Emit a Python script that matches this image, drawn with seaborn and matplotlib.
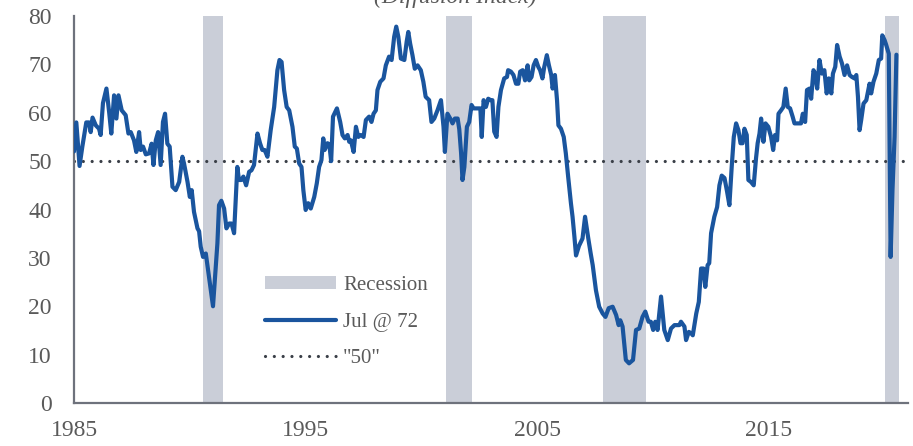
import matplotlib
matplotlib.use("Agg")
import matplotlib.pyplot as plt
import matplotlib.patches as mpatches
from matplotlib.lines import Line2D
import seaborn as sns
import pandas as pd

# ---- data ----
dates = [
    1985.00, 1985.10, 1985.24, 1985.36, 1985.53, 1985.65, 1985.72, 1985.80, 1985.94, 1986.08,
    1986.15, 1986.25, 1986.40, 1986.52, 1986.61, 1986.73, 1986.83, 1986.92, 1987.06, 1987.23,
    1987.35, 1987.45, 1987.59, 1987.69, 1987.81, 1987.88, 1987.98, 1988.10, 1988.24, 1988.35,
    1988.43, 1988.53, 1988.63, 1988.74, 1988.84, 1988.93, 1989.03, 1989.13, 1989.25, 1989.39,
    1989.54, 1989.68, 1989.75, 1989.90, 1990.00, 1990.08, 1990.18, 1990.33, 1990.40, 1990.47,
    1990.57, 1990.69, 1991.00, 1991.19, 1991.26, 1991.36, 1991.48, 1991.58, 1991.70, 1991.80,
    1991.91, 1992.05, 1992.12, 1992.22, 1992.31, 1992.43, 1992.56, 1992.66, 1992.77, 1992.92,
    1993.03, 1993.13, 1993.23, 1993.35, 1993.49, 1993.64, 1993.78, 1993.87, 1993.96, 1994.07,
    1994.18, 1994.29, 1994.43, 1994.53, 1994.62, 1994.72, 1994.82, 1994.90, 1995.00, 1995.11,
    1995.22, 1995.37, 1995.48, 1995.58, 1995.68, 1995.76, 1995.82, 1995.94, 1996.02, 1996.10,
    1996.18, 1996.35, 1996.49, 1996.59, 1996.69, 1996.81, 1996.88, 1996.95, 1997.07, 1997.17,
    1997.27, 1997.38, 1997.50, 1997.60, 1997.74, 1997.84, 1997.93, 1998.03, 1998.10, 1998.22,
    1998.36, 1998.46, 1998.60, 1998.71, 1998.82, 1998.91, 1999.00, 1999.11, 1999.26, 1999.36,
    1999.43, 1999.51, 1999.61, 1999.71, 1999.83, 1999.97, 2000.08, 2000.18, 2000.33, 2000.43,
    2000.55, 2000.69, 2000.84, 2000.95, 2001.01, 2001.12, 2001.24, 2001.34, 2001.44, 2001.56,
    2001.63, 2001.71, 2001.77, 2001.85, 2001.96, 2002.06, 2002.16, 2002.25, 2002.42, 2002.54,
    2002.60, 2002.68, 2002.78, 2002.88, 2002.99, 2003.06, 2003.14, 2003.24, 2003.32, 2003.43,
    2003.57, 2003.69, 2003.74, 2003.86, 2003.97, 2004.08, 2004.18, 2004.26, 2004.37, 2004.47,
    2004.58, 2004.65, 2004.75, 2004.84, 2004.94, 2005.04, 2005.12, 2005.22, 2005.30, 2005.41,
    2005.50, 2005.60, 2005.66, 2005.76, 2005.85, 2005.91, 2006.02, 2006.14, 2006.23, 2006.33,
    2006.45, 2006.52, 2006.60, 2006.67, 2006.80, 2006.95, 2007.06, 2007.20, 2007.30, 2007.39,
    2007.53, 2007.67, 2007.82, 2007.94, 2008.08, 2008.25, 2008.40, 2008.51, 2008.58, 2008.68,
    2008.82, 2008.96, 2009.13, 2009.26, 2009.40, 2009.54, 2009.66, 2009.80, 2009.90, 2010.00,
    2010.09, 2010.19, 2010.34, 2010.48, 2010.63, 2010.77, 2010.92, 2011.13, 2011.20, 2011.35,
    2011.42, 2011.54, 2011.64, 2011.71, 2011.86, 2011.97, 2012.07, 2012.17, 2012.25, 2012.35,
    2012.42, 2012.50, 2012.64, 2012.76, 2012.86, 2012.96, 2013.08, 2013.19, 2013.29, 2013.39,
    2013.48, 2013.58, 2013.68, 2013.77, 2013.86, 2013.94, 2014.04, 2014.11, 2014.22, 2014.34,
    2014.44, 2014.51, 2014.59, 2014.66, 2014.76, 2014.85, 2014.97, 2015.09, 2015.18, 2015.26,
    2015.35, 2015.41, 2015.52, 2015.62, 2015.72, 2015.81, 2015.91, 2016.02, 2016.10, 2016.27,
    2016.38, 2016.46, 2016.56, 2016.64, 2016.75, 2016.82, 2016.92, 2016.99, 2017.08, 2017.18,
    2017.28, 2017.39, 2017.49, 2017.58, 2017.69, 2017.76, 2017.86, 2017.94, 2018.05, 2018.15,
    2018.26, 2018.37, 2018.48, 2018.58, 2018.69, 2018.77, 2018.84, 2018.91, 2018.98, 2019.08,
    2019.20, 2019.34, 2019.41, 2019.51, 2019.63, 2019.74, 2019.84, 2019.89, 2019.99, 2020.06,
    2020.17, 2020.25, 2020.33, 2020.42, 2020.50,
]
index_values = [
    52.0, 58.0, 49.0, 53.0, 58.0, 58.0, 56.0, 59.0, 57.4, 56.7,
    55.4, 62.0, 65.0, 60.0, 55.7, 63.6, 58.8, 63.6, 60.5, 59.5,
    55.7, 56.0, 54.3, 51.9, 56.0, 52.3, 53.0, 51.4, 51.6, 53.6,
    49.2, 54.3, 56.0, 49.2, 58.1, 59.8, 53.6, 53.0, 44.7, 44.0,
    45.7, 50.9, 49.5, 45.7, 42.6, 44.0, 39.5, 36.1, 35.5, 32.3,
    30.2, 30.9, 20.0, 33.0, 40.9, 41.8, 40.2, 36.1, 37.1, 37.1,
    35.1, 48.8, 46.1, 46.1, 46.8, 45.0, 47.8, 48.1, 49.2, 55.7,
    53.7, 52.3, 52.3, 50.9, 56.4, 61.2, 68.8, 70.9, 70.5, 64.7,
    61.2, 60.5, 57.1, 53.0, 52.6, 49.5, 48.8, 44.0, 39.9, 41.3,
    40.2, 42.6, 45.4, 48.8, 50.2, 54.7, 52.3, 53.7, 53.5, 50.0,
    59.2, 60.9, 58.1, 55.4, 54.7, 55.4, 54.0, 54.3, 51.9, 57.1,
    55.0, 55.4, 55.0, 58.5, 59.2, 58.1, 59.8, 60.5, 64.7, 66.4,
    67.1, 69.8, 71.6, 70.9, 75.7, 77.8, 75.7, 71.2, 70.9, 74.7,
    76.7, 74.3, 71.9, 69.1, 69.8, 68.8, 66.4, 63.3, 62.6, 58.1,
    58.8, 60.5, 62.6, 57.1, 51.9, 59.8, 58.8, 57.8, 58.8, 58.8,
    56.6, 51.6, 46.1, 48.8, 57.1, 58.1, 61.6, 60.9, 60.9, 60.9,
    55.0, 62.6, 61.2, 62.9, 62.6, 62.6, 56.1, 55.0, 61.2, 64.7,
    67.1, 67.4, 68.8, 68.5, 67.8, 66.0, 66.0, 68.5, 68.8, 66.7,
    69.8, 66.7, 67.4, 69.8, 70.9, 69.5, 68.8, 67.1, 69.5, 71.9,
    69.8, 67.8, 65.0, 67.8, 62.6, 57.4, 56.7, 55.0, 51.6, 46.8,
    41.3, 38.5, 34.4, 30.5, 32.5, 34.0, 38.5, 34.0, 31.0, 28.5,
    23.3, 19.9, 18.5, 17.8, 19.6, 19.9, 18.2, 16.1, 17.1, 15.8,
    8.9, 8.2, 8.9, 15.1, 15.4, 17.8, 18.9, 16.8, 16.8, 15.1,
    16.8, 15.1, 22.0, 15.1, 13.0, 15.4, 16.1, 16.1, 16.8, 15.8,
    13.0, 14.7, 14.4, 14.0, 18.5, 20.9, 27.8, 27.8, 24.0, 28.5,
    28.9, 35.1, 38.5, 40.5, 45.0, 47.0, 46.5, 43.7, 40.9, 48.8,
    55.0, 57.8, 56.4, 53.7, 53.7, 56.7, 55.4, 46.1, 45.7, 45.0,
    50.6, 53.7, 55.7, 58.8, 54.0, 57.8, 57.1, 55.0, 52.3, 55.4,
    54.3, 59.8, 60.5, 61.2, 65.0, 61.2, 60.9, 59.2, 57.8, 57.8,
    57.8, 59.8, 58.1, 64.7, 65.0, 62.9, 68.8, 68.1, 65.0, 70.9,
    68.1, 68.8, 64.0, 67.1, 64.0, 68.1, 69.5, 74.0, 71.6, 70.2,
    67.8, 69.8, 67.8, 67.4, 67.1, 67.8, 63.3, 56.4, 58.5, 61.9,
    62.6, 66.0, 64.0, 66.4, 68.1, 70.9, 71.2, 76.0, 75.0, 74.0,
    72.2, 30.2, 44.0, 55.0, 72.0,
]
recession_start = [1990.57, 2001.07, 2007.82, 2019.99]
recession_end = [1991.45, 2002.18, 2009.69, 2020.61]
reference_level = 50
x_ticks = [1985, 1995, 2005, 2015]
y_ticks = [0, 10, 20, 30, 40, 50, 60, 70, 80]
legend_labels = ["Recession", "Jul @ 72", '"50"']
subtitle = "(Diffusion Index)"

# ---- styling ----
BLUE = "#1A559E"
REC = "#CACED8"
DOT = "#3A3F47"
TXT = "#5A5A5A"
SPINE = "#6E727C"

sns.set_theme(style="white")
plt.rcParams["font.family"] = ["Liberation Serif", "DejaVu Serif"]

W, H = 913, 446
fig = plt.figure(figsize=(W / 100, H / 100), dpi=100)
ax = fig.add_axes([74 / W, 1 - 403 / H, (908 - 74) / W, (403 - 16) / H])

for s, e in zip(recession_start, recession_end):
    ax.axvspan(s, e, color=REC, lw=0, zorder=1)

ax.axhline(reference_level, color=DOT, lw=2.3, dashes=(0.01, 2.75),
           dash_capstyle="round", zorder=2)

df = pd.DataFrame({"date": dates, "value": index_values})
sns.lineplot(data=df, x="date", y="value", ax=ax, color=BLUE, lw=3.0,
             estimator=None, sort=False, zorder=3)

ax.set_xlim(1985, 2021.0)
ax.set_ylim(0, 80)
ax.set_xticks(x_ticks)
ax.set_yticks(y_ticks)
ax.set_xlabel("")
ax.set_ylabel("")
ax.tick_params(axis="both", length=0, labelsize=17, colors=TXT)
ax.tick_params(axis="y", pad=16)
ax.tick_params(axis="x", pad=12)

for side in ["top", "right"]:
    ax.spines[side].set_visible(False)
for side in ["left", "bottom"]:
    ax.spines[side].set_color(SPINE)
    ax.spines[side].set_linewidth(1.6)

handles = [
    mpatches.Patch(facecolor=REC, edgecolor="none"),
    Line2D([], [], color=BLUE, lw=3.0),
    Line2D([], [], color=DOT, lw=2.3, dashes=(0.01, 2.75), dash_capstyle="round"),
]
leg = fig.legend(handles, legend_labels, loc="center left",
                 bbox_to_anchor=(265 / W, 1 - 322 / H), frameon=False,
                 fontsize=15, handlelength=3.4, handleheight=0.6,
                 handletextpad=0.35, labelspacing=0.85, borderpad=0,
                 borderaxespad=0)
for t in leg.get_texts():
    t.set_color(TXT)

fig.text(455 / W, 1 - 3 / H, subtitle, ha="center", va="baseline",
         fontsize=17, style="italic", color=TXT)

fig.savefig("out.png", dpi=100)
